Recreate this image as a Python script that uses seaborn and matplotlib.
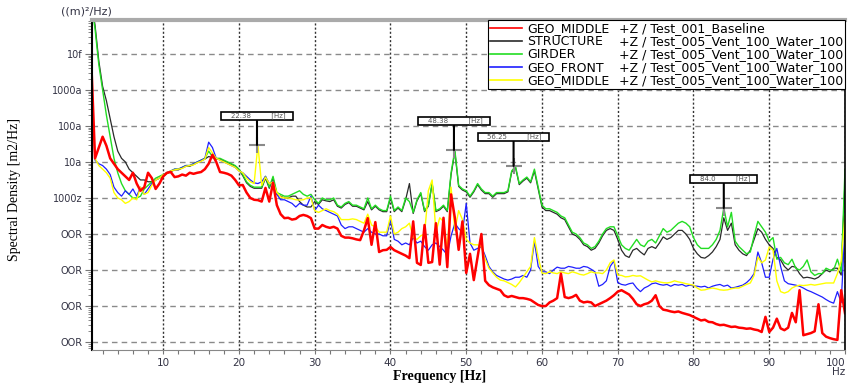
import numpy as np
import matplotlib
matplotlib.use("Agg")
import matplotlib.pyplot as plt
from matplotlib.lines import Line2D
from matplotlib.ticker import FixedLocator, FixedFormatter, MultipleLocator, LogLocator, NullFormatter
import seaborn as sns

plt.rcParams['font.family'] = ['DejaVu Sans']

# frequency grid [Hz], 0.5 Hz bins
freq = np.arange(1, 201) * 0.5

# log10 of spectral density (m2/Hz), 20 bins (10 Hz) per row
geo_middle_base = [
    -14.2, -16.9, -16.6, -16.3, -16.55, -16.9, -17.05, -17.2, -17.3, -17.4, -17.5, -17.3, -17.6, -17.8, -17.7, -17.3, -17.45, -17.75, -17.6, -17.4,
    -17.3, -17.28, -17.42, -17.4, -17.35, -17.38, -17.3, -17.33, -17.3, -17.28, -17.2, -17.05, -16.8, -17.0, -17.28, -17.3, -17.33, -17.38, -17.5, -17.65,
    -17.64, -17.85, -18.0, -18.05, -18.06, -18.1, -17.72, -18.1, -17.58, -18.2, -18.45, -18.56, -18.55, -18.6, -18.58, -18.5, -18.47, -18.5, -18.56, -18.85,
    -18.85, -18.75, -18.8, -18.83, -18.8, -18.85, -19.05, -19.1, -19.1, -19.12, -19.15, -19.17, -18.9, -18.56, -19.3, -18.67, -19.5, -19.45, -19.44, -19.36,
    -19.45, -19.5, -19.55, -19.6, -19.67, -18.65, -19.8, -19.86, -18.75, -19.8, -19.78, -18.7, -19.85, -18.55, -19.92, -17.9, -18.55, -19.44, -18.65, -20.08,
    -19.55, -20.28, -19.64, -19.0, -20.3, -20.42, -20.48, -20.52, -20.56, -20.7, -20.75, -20.72, -20.75, -20.78, -20.78, -20.8, -20.83, -20.9, -20.97, -21.0,
    -21.0, -20.9, -20.85, -20.78, -20.1, -20.75, -20.78, -20.75, -20.69, -20.85, -20.9, -20.88, -20.9, -21.0, -20.95, -20.9, -20.85, -20.78, -20.7, -20.6,
    -20.56, -20.62, -20.68, -20.8, -20.95, -21.0, -20.95, -20.92, -20.85, -20.7, -21.0, -21.1, -21.12, -21.15, -21.17, -21.15, -21.19, -21.22, -21.25, -21.3,
    -21.35, -21.4, -21.38, -21.44, -21.45, -21.5, -21.53, -21.52, -21.55, -21.58, -21.57, -21.6, -21.61, -21.63, -21.62, -21.65, -21.67, -21.72, -21.3, -21.72,
    -21.6, -21.35, -21.62, -21.67, -21.6, -21.19, -21.45, -20.56, -21.81, -21.78, -21.75, -21.7, -20.95, -21.75, -21.85, -21.89, -21.92, -21.94, -20.56, -21.2,
]

structure = [
    -12.5, -13.2, -14.2, -14.9, -15.3, -15.8, -16.3, -16.7, -16.9, -17.0, -17.2, -17.3, -17.4, -17.5, -17.5, -17.55, -17.55, -17.5, -17.45, -17.4,
    -17.32, -17.27, -17.22, -17.22, -17.17, -17.12, -17.12, -17.07, -17.02, -16.97, -16.92, -16.85, -16.88, -16.92, -16.92, -16.97, -17.02, -17.07, -17.12, -17.22,
    -17.38, -17.58, -17.68, -17.73, -17.73, -17.73, -17.45, -17.73, -17.45, -17.9, -17.95, -18.0, -18.0, -17.95, -17.95, -18.1, -18.2, -18.25, -18.25, -18.1,
    -18.18, -18.05, -18.08, -18.1, -18.05, -18.23, -18.28, -18.18, -18.13, -18.23, -18.23, -18.28, -18.33, -18.1, -18.33, -18.23, -18.33, -18.38, -18.38, -18.0,
    -18.38, -18.28, -18.38, -18.05, -17.6, -18.43, -18.08, -17.88, -18.38, -18.23, -17.6, -18.38, -18.33, -18.23, -18.38, -17.35, -16.72, -17.68, -17.78, -17.83,
    -17.98, -17.83, -17.63, -17.78, -17.88, -17.88, -17.98, -17.88, -17.88, -17.88, -17.83, -17.28, -17.15, -17.63, -17.53, -17.45, -17.58, -17.25, -17.75, -18.25,
    -18.35, -18.35, -18.4, -18.45, -18.55, -18.6, -18.8, -19.0, -19.05, -19.15, -19.3, -19.35, -19.45, -19.4, -19.25, -19.05, -18.9, -18.85, -18.9, -19.15,
    -19.45, -19.6, -19.65, -19.45, -19.4, -19.5, -19.58, -19.4, -19.35, -19.4, -19.25, -19.08, -19.15, -19.1, -19.0, -18.9, -18.9, -19.0, -19.15, -19.4,
    -19.55, -19.65, -19.67, -19.6, -19.5, -19.35, -19.15, -18.55, -18.9, -18.7, -19.3, -19.45, -19.55, -19.6, -19.45, -19.15, -18.85, -18.95, -19.15, -19.3,
    -19.4, -19.65, -19.72, -19.9, -20.0, -19.9, -19.92, -20.1, -20.22, -20.2, -20.22, -20.25, -20.2, -20.1, -20.0, -20.05, -19.95, -19.95, -20.14, -17.5,
]

girder = [
    -12.6, -13.3, -14.3, -15.0, -15.7, -16.3, -16.9, -17.3, -17.6, -17.8, -17.9, -18.0, -18.0, -17.95, -17.75, -17.65, -17.55, -17.45, -17.4, -17.35,
    -17.3, -17.25, -17.2, -17.2, -17.15, -17.1, -17.1, -17.05, -17.0, -16.95, -16.9, -16.7, -16.85, -16.9, -16.9, -16.95, -17.0, -17.05, -17.1, -17.2,
    -17.35, -17.55, -17.65, -17.7, -17.7, -17.7, -17.4, -17.7, -17.4, -17.85, -17.9, -17.95, -17.95, -17.9, -17.85, -17.8, -17.9, -17.95, -17.9, -18.05,
    -18.15, -18.0, -18.05, -18.05, -18.0, -18.2, -18.25, -18.15, -18.1, -18.2, -18.2, -18.25, -18.3, -18.0, -18.3, -18.2, -18.3, -18.35, -18.35, -17.95,
    -18.35, -18.25, -18.35, -18.0, -18.1, -18.4, -18.05, -17.85, -18.35, -18.2, -17.6, -18.35, -18.3, -18.2, -18.35, -17.3, -16.67, -17.65, -17.75, -17.8,
    -17.95, -17.8, -17.6, -17.75, -17.85, -17.85, -17.95, -17.85, -17.85, -17.85, -17.8, -17.25, -17.12, -17.6, -17.5, -17.42, -17.55, -17.2, -17.7, -18.2,
    -18.3, -18.3, -18.35, -18.4, -18.5, -18.55, -18.75, -18.95, -19.0, -19.1, -19.25, -19.3, -19.4, -19.35, -19.2, -19.0, -18.85, -18.8, -18.8, -19.05,
    -19.3, -19.4, -19.45, -19.3, -19.15, -19.3, -19.35, -19.2, -19.15, -19.25, -19.05, -18.85, -18.95, -18.9, -18.8, -18.7, -18.65, -18.7, -18.8, -19.1,
    -19.3, -19.4, -19.4, -19.4, -19.3, -19.15, -18.9, -18.28, -18.8, -18.4, -19.2, -19.35, -19.45, -19.55, -19.5, -19.05, -18.65, -18.8, -18.95, -19.2,
    -19.1, -19.7, -19.65, -19.8, -19.85, -19.7, -19.95, -20.0, -19.9, -19.72, -20.05, -20.15, -20.1, -20.1, -19.95, -20.0, -20.0, -19.7, -20.05, -17.2,
]

geo_front = [
    -15.0, -16.95, -17.05, -17.1, -17.2, -17.35, -17.7, -17.85, -17.95, -17.8, -17.9, -17.75, -17.95, -17.7, -17.9, -17.75, -17.6, -17.5, -17.45, -17.35,
    -17.3, -17.25, -17.2, -17.2, -17.15, -17.1, -17.1, -17.05, -17.0, -16.95, -16.9, -16.45, -16.6, -16.9, -16.95, -17.0, -17.05, -17.1, -17.15, -17.25,
    -17.3, -17.4, -17.5, -17.58, -17.6, -17.55, -17.4, -17.6, -17.55, -17.9, -18.05, -18.05, -18.1, -18.15, -18.25, -18.15, -18.2, -18.2, -17.95, -18.35,
    -18.2, -18.3, -18.35, -18.4, -18.45, -18.5, -18.75, -18.85, -18.8, -18.8, -18.85, -18.9, -18.95, -18.85, -18.95, -19.0, -19.0, -19.05, -19.05, -18.6,
    -19.15, -19.2, -19.3, -19.25, -19.3, -19.1, -19.25, -19.2, -19.35, -19.45, -19.3, -19.25, -19.35, -19.45, -19.58, -19.05, -18.7, -18.85, -18.95, -18.15,
    -19.25, -19.45, -19.4, -19.35, -19.6, -19.9, -20.05, -20.15, -20.2, -20.25, -20.28, -20.25, -20.2, -20.2, -20.15, -20.2, -20.0, -19.2, -19.9, -20.05,
    -20.05, -20.1, -20.0, -19.92, -19.95, -19.95, -19.9, -19.92, -19.95, -19.95, -19.9, -19.92, -19.98, -20.05, -20.45, -20.4, -20.3, -19.9, -19.75, -20.35,
    -20.4, -20.42, -20.38, -20.36, -20.5, -20.6, -20.5, -20.45, -20.38, -20.36, -20.4, -20.42, -20.4, -20.45, -20.4, -20.42, -20.4, -20.45, -20.42, -20.44,
    -20.45, -20.47, -20.45, -20.5, -20.45, -20.42, -20.4, -20.45, -20.42, -20.5, -20.48, -20.45, -20.42, -20.35, -20.25, -20.1, -19.5, -19.8, -20.2, -20.2,
    -19.7, -19.4, -19.9, -20.3, -20.38, -20.4, -20.42, -20.45, -20.5, -20.56, -20.6, -20.65, -20.7, -20.75, -20.82, -20.88, -20.92, -20.6, -20.9, -18.8,
]

geo_middle_005 = [
    -14.9, -16.9, -17.1, -17.2, -17.3, -17.45, -17.85, -18.0, -18.05, -18.15, -18.1, -18.0, -18.05, -17.7, -17.9, -17.85, -17.65, -17.5, -17.45, -17.35,
    -17.32, -17.25, -17.22, -17.2, -17.18, -17.12, -17.1, -17.08, -17.02, -16.98, -16.92, -16.6, -16.75, -16.9, -16.95, -17.0, -17.05, -17.1, -17.15, -17.25,
    -17.3, -17.45, -17.55, -17.6, -16.53, -17.65, -17.42, -17.6, -17.56, -17.85, -17.97, -18.0, -18.0, -18.02, -18.05, -18.06, -18.05, -18.0, -18.0, -18.35,
    -18.4, -18.35, -18.3, -18.35, -18.38, -18.45, -18.6, -18.6, -18.6, -18.58, -18.6, -18.65, -18.7, -18.45, -18.75, -18.8, -18.95, -18.95, -18.95, -18.5,
    -19.0, -18.95, -18.85, -18.8, -18.7, -19.1, -19.15, -19.05, -19.0, -17.8, -17.5, -18.95, -18.55, -18.65, -19.45, -17.7, -18.9, -18.35, -18.6, -19.15,
    -19.25, -19.3, -19.3, -19.35, -19.7, -19.95, -20.08, -20.2, -20.28, -20.3, -20.35, -20.4, -20.47, -20.35, -20.2, -20.05, -19.9, -19.1, -19.65, -20.08,
    -20.1, -20.05, -20.08, -20.1, -20.05, -20.08, -20.1, -20.05, -20.08, -20.12, -20.14, -20.1, -20.05, -20.08, -20.08, -20.1, -20.0, -19.8, -19.72, -20.14,
    -20.15, -20.19, -20.18, -20.15, -20.17, -20.16, -20.22, -20.28, -20.33, -20.3, -20.33, -20.35, -20.36, -20.34, -20.3, -20.33, -20.35, -20.38, -20.4, -20.42,
    -20.5, -20.56, -20.55, -20.52, -20.5, -20.52, -20.55, -20.56, -20.55, -20.52, -20.5, -20.5, -20.45, -20.4, -20.36, -20.15, -19.64, -19.8, -19.72, -19.36,
    -19.45, -20.3, -20.6, -20.64, -20.6, -20.5, -20.45, -20.42, -20.43, -20.42, -20.4, -20.42, -20.4, -20.38, -20.36, -20.36, -20.36, -20.1, -19.75, -18.5,
]

channel_names = ['GEO_MIDDLE', 'STRUCTURE', 'GIRDER', 'GEO_FRONT', 'GEO_MIDDLE']
test_names = ['+Z / Test_001_Baseline', '+Z / Test_005_Vent_100_Water_100',
              '+Z / Test_005_Vent_100_Water_100', '+Z / Test_005_Vent_100_Water_100',
              '+Z / Test_005_Vent_100_Water_100']
colors = ['#ff0000', '#2a2a2a', '#22dd22', '#1f1fff', '#ffff00']
widths = [1.8, 0.9, 1.0, 0.9, 1.0]
data = [geo_middle_base, structure, girder, geo_front, geo_middle_005]

# cursor markers
peak_freq = [22.38, 48.38, 56.25, 84.0]
peak_level = [-16.53, -16.67, -17.11, -18.28]
peak_text = ['22.38', '48.38', '56.25', '84.0']

ytick_labels = ['OOR', 'OOR', 'OOR', 'OOR', '1000z', '10a', '100a', '1000a', '10f']
xtick_labels = ['10', '20', '30', '40', '50', '60', '70', '80', '90', '100\nHz']

fig, ax = plt.subplots(figsize=(8.53, 3.85), dpi=100)
fig.subplots_adjust(left=92/853, right=845/853, top=1-20/385, bottom=1-350/385)

# draw order: structure, girder, front, middle 005, baseline on top
for i in [1, 2, 3, 4, 0]:
    sns.lineplot(x=freq, y=10.0 ** np.array(data[i]), ax=ax, color=colors[i],
                 linewidth=widths[i], estimator=None, sort=False, legend=False, zorder=2)

ax.set_yscale('log')
ax.set_xlim(0.6, 100)
ax.set_ylim(10 ** -22.22, 10 ** -13.06)

ax.yaxis.set_major_locator(FixedLocator(10.0 ** np.arange(-22, -13)))
ax.yaxis.set_major_formatter(FixedFormatter(ytick_labels))
ax.yaxis.set_minor_locator(LogLocator(base=10, subs=np.arange(2, 10), numticks=30))
ax.yaxis.set_minor_formatter(NullFormatter())
ax.xaxis.set_major_locator(FixedLocator([10, 20, 30, 40, 50, 60, 70, 80, 90, 100]))
ax.xaxis.set_major_formatter(FixedFormatter(xtick_labels))
ax.xaxis.set_minor_locator(MultipleLocator(2))

ax.grid(axis='y', which='major', linestyle=(0, (4, 3)), color='#8a8a8a', linewidth=1.0)
ax.grid(axis='x', which='major', linestyle=(0, (1.5, 1.5)), color='#333333', linewidth=1.0)
ax.set_axisbelow(True)

ax.tick_params(axis='y', which='major', direction='out', length=5, width=0.8, color='#777777',
               labelsize=7, labelcolor='#333344', pad=2)
ax.tick_params(axis='y', which='minor', direction='out', length=3, width=0.6, color='#777777')
ax.tick_params(axis='x', which='both', direction='out', length=3, width=0.8, color='#777777',
               labelsize=7.5, labelcolor='#333344', pad=3)
fig.canvas.draw()
xlabels = ax.get_xticklabels()
for t in xlabels:
    t.set_linespacing(0.8)
xlabels[-1].set_horizontalalignment('right')

ax.spines['left'].set_color('black')
ax.spines['left'].set_linewidth(1.5)
ax.spines['bottom'].set_color('#888888')
ax.spines['top'].set_color('#aaaaaa')
ax.spines['top'].set_linewidth(3)
ax.spines['right'].set_color('black')
ax.spines['right'].set_linewidth(1.2)

# cursors
sns.scatterplot(x=peak_freq, y=[10.0 ** v for v in peak_level], ax=ax, marker='+', s=130,
                color='#8a8a8a', linewidth=1.5, zorder=4, legend=False)
for f, lv, txt in zip(peak_freq, peak_level, peak_text):
    ax.annotate('    ' + txt + '         [Hz]   ', xy=(f, 10.0 ** lv), xytext=(0, 21), textcoords='offset points',
                ha='center', va='center', fontsize=5, color='#555555', zorder=5,
                bbox=dict(boxstyle='square,pad=0.1', fc='white', ec='black', lw=1.2),
                arrowprops=dict(arrowstyle='-', color='black', lw=1.5, shrinkA=0, shrinkB=0))

handles = [Line2D([], [], color=c, lw=1.2) for c in colors] + [Line2D([], [], color='none') for _ in colors]
leg = ax.legend(handles, channel_names + test_names, ncol=2, loc='upper right', bbox_to_anchor=(1.0, 1.0),
                borderaxespad=0, fontsize=9, frameon=True, fancybox=False, edgecolor='black',
                framealpha=1, handlelength=2.56, handletextpad=0.4, columnspacing=-2.2,
                labelspacing=0.0, borderpad=0.15)
leg.get_frame().set_linewidth(0.8)
leg.set_zorder(6)

fig.text(61/853, 1-12/385, '((m)²/Hz)', fontsize=8, color='#333344', ha='left', va='center')
ax.set_ylabel('Spectral Density [m2/Hz]', family='Liberation Serif', fontsize=10)
ax.yaxis.set_label_coords(-0.094, 0.485)
ax.set_xlabel('Frequency [Hz]', family='Liberation Serif', fontsize=10, fontweight='bold')
ax.xaxis.set_label_coords(0.462, -0.06)

plt.savefig('out.png', dpi=100)
